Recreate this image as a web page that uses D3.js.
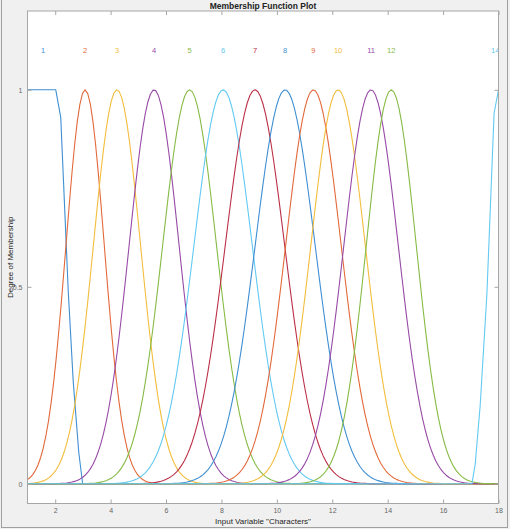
<!DOCTYPE html>
<html>
<head>
<meta charset="utf-8">
<script src="https://cdn.jsdelivr.net/npm/d3@7"></script>
<style>
  html, body { margin: 0; padding: 0; background: #f0f0f0; }
  svg { display: block; font-family: 'Liberation Sans', Arial, sans-serif; }
</style>
</head>
<body>
<script>
// membership functions
const mfLabels = ['1', '2', '3', '4', '5', '6', '7', '8', '9', '10', '11', '12', '14'];
const labelX = [1.56, 3.08, 4.23, 5.57, 6.85, 8.06, 9.21, 10.3, 11.32, 12.21, 13.4, 14.13, 17.88];
const mfColors = ['#3f8fd2', '#e2693a', '#f2bd3c', '#974aa6', '#86bb45', '#62c9f2', '#bb3048',
  '#3f8fd2', '#e2693a', '#f2bd3c', '#974aa6', '#86bb45', '#62c9f2'];

// gaussian MFs 2..12: centre and sigma
const gaussCenters = [3.08, 4.23, 5.57, 6.85, 8.06, 9.21, 10.3, 11.32, 12.21, 13.4, 14.13];
const gaussSigmas = [0.69, 0.85, 0.9, 0.97, 1.05, 1.07, 1.08, 1.0, 0.98, 0.98, 0.9];

// MF 1 (left shoulder) and MF 14 (right shoulder) as sampled points
const mf1Points = [[1, 1], [2.02, 1], [2.2, 0.93], [2.47, 0.49], [2.65, 0.26], [2.85, 0.08], [2.99, 0], [18, 0]];
const mf14Points = [[1, 0], [17.04, 0], [17.16, 0.05], [17.34, 0.2], [17.58, 0.48], [17.7, 0.69], [17.84, 0.94], [18, 1]];

const xTicks = [2, 4, 6, 8, 10, 12, 14, 16, 18];
const yTicks = [0, 0.5, 1];

const W = 510, H = 529;
const plot = { left: 27.5, right: 498.5, top: 11, bottom: 503.5 };

const x = d3.scaleLinear().domain([1, 18]).range([plot.left, plot.right]);
const y = d3.scaleLinear().domain([-0.05, 1.2]).range([plot.bottom, plot.top]);

const svg = d3.select('body').append('svg')
  .attr('width', W)
  .attr('height', H);

// window frame
svg.append('rect')
  .attr('x', 1.5).attr('y', -2)
  .attr('width', 506).attr('height', 529.5)
  .attr('fill', '#f0f0f0')
  .attr('stroke', '#a0a0a0');

svg.append('defs').append('clipPath').attr('id', 'clip')
  .append('rect')
  .attr('x', plot.left).attr('y', plot.top)
  .attr('width', plot.right - plot.left).attr('height', plot.bottom - plot.top);

svg.append('rect')
  .attr('x', plot.left).attr('y', plot.top)
  .attr('width', plot.right - plot.left).attr('height', plot.bottom - plot.top)
  .attr('fill', '#fff');

const line = d3.line()
  .x(d => x(d[0]))
  .y(d => y(d[1]));

const samples = d3.range(181).map(i => 1 + i * 17 / 180);
const curves = [mf1Points]
  .concat(gaussCenters.map((c, i) =>
    samples.map(v => [v, Math.exp(-((v - c) ** 2) / (2 * gaussSigmas[i] ** 2))])))
  .concat([mf14Points]);

const g = svg.append('g').attr('clip-path', 'url(#clip)');

g.selectAll('.mf')
  .data(curves)
  .enter()
  .append('path')
  .attr('class', 'mf')
  .attr('d', line)
  .attr('fill', 'none')
  .attr('stroke', (d, i) => mfColors[i])
  .attr('stroke-width', 1.1)
  .attr('stroke-linejoin', 'round');

g.selectAll('.mflabel')
  .data(mfLabels)
  .enter()
  .append('text')
  .attr('class', 'mflabel')
  .attr('x', (d, i) => x(labelX[i]))
  .attr('y', y(1.1) + 3)
  .attr('text-anchor', 'middle')
  .attr('font-size', 7.5)
  .attr('fill', (d, i) => mfColors[i])
  .text(d => d);

// axes, ticks inward on all four sides
const axisCol = '#a6a6a6';
const tickCol = '#666';

const bottomAxis = svg.append('g')
  .attr('transform', `translate(0,${plot.bottom})`)
  .call(d3.axisBottom(x).tickValues(xTicks).tickSize(-4).tickPadding(5));
const topAxis = svg.append('g')
  .attr('transform', `translate(0,${plot.top})`)
  .call(d3.axisTop(x).tickValues(xTicks).tickSize(-4).tickFormat(''));
const leftAxis = svg.append('g')
  .attr('transform', `translate(${plot.left},0)`)
  .call(d3.axisLeft(y).tickValues(yTicks).tickSize(-4).tickPadding(5).tickFormat(d3.format('')));
const rightAxis = svg.append('g')
  .attr('transform', `translate(${plot.right},0)`)
  .call(d3.axisRight(y).tickValues(yTicks).tickSize(-4).tickFormat(''));

[bottomAxis, topAxis, leftAxis, rightAxis].forEach(a => {
  a.select('.domain').remove();
  a.selectAll('line').attr('stroke', axisCol);
  a.selectAll('text')
    .attr('fill', tickCol)
    .attr('font-size', 7)
    .attr('font-family', "'Liberation Sans', Arial, sans-serif");
});

svg.append('rect')
  .attr('x', plot.left).attr('y', plot.top)
  .attr('width', plot.right - plot.left).attr('height', plot.bottom - plot.top)
  .attr('fill', 'none')
  .attr('stroke', axisCol);

svg.append('text')
  .attr('x', 263).attr('y', 8.5)
  .attr('text-anchor', 'middle')
  .attr('font-size', 8.5)
  .attr('font-weight', 'bold')
  .attr('fill', '#222')
  .text('Membership Function Plot');

svg.append('text')
  .attr('x', 263).attr('y', 523.5)
  .attr('text-anchor', 'middle')
  .attr('font-size', 8)
  .attr('fill', '#262626')
  .text('Input Variable "Characters"');

svg.append('text')
  .attr('transform', `translate(13,${(plot.top + plot.bottom) / 2}) rotate(-90)`)
  .attr('text-anchor', 'middle')
  .attr('font-size', 8)
  .attr('fill', '#262626')
  .text('Degree of Membership');
</script>
</body>
</html>
